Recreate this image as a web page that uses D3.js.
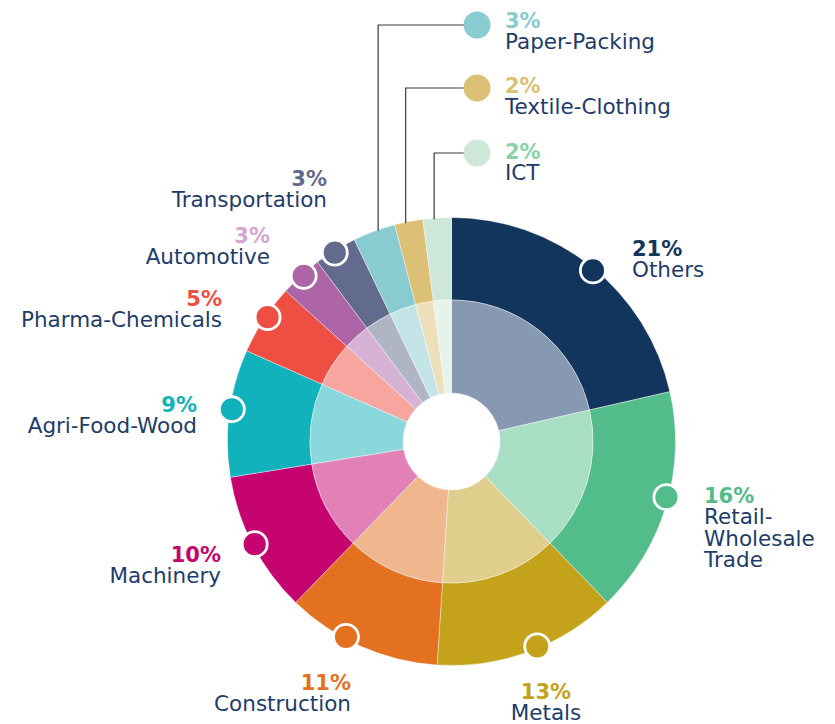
<!DOCTYPE html>
<html>
<head>
<meta charset="utf-8">
<script src="https://cdn.jsdelivr.net/npm/d3@7"></script>
<style>
  body { margin: 0; background: #fff; }
  svg { display: block; font-family: "DejaVu Sans", sans-serif; }
</style>
</head>
<body>
<div id="chart"></div>
<script>
// sectors, clockwise from 12 o'clock
const sectors = ["Others", "Retail-Wholesale Trade", "Metals", "Construction", "Machinery",
  "Agri-Food-Wood", "Pharma-Chemicals", "Automotive", "Transportation",
  "Paper-Packing", "Textile-Clothing", "ICT"];
const shares = [21, 16, 13, 11, 10, 9, 5, 3, 3, 3, 2, 2];
const nameLines = [["Others"], ["Retail-", "Wholesale", "Trade"], ["Metals"], ["Construction"],
  ["Machinery"], ["Agri-Food-Wood"], ["Pharma-Chemicals"], ["Automotive"], ["Transportation"],
  ["Paper-Packing"], ["Textile-Clothing"], ["ICT"]];

const outerColors = ["#12355e", "#52bd8a", "#c4a21a", "#e4711f", "#c5046f", "#11b2bb",
  "#ef4f42", "#ad65a8", "#626b8d", "#88cbd0", "#dcc075", "#cde8d8"];
const innerColors = ["#8799b0", "#a8dec4", "#e0ce8c", "#f0b68e", "#e281b6", "#88d8dc",
  "#f6a59f", "#d6b2d4", "#b0b5c6", "#c4e5e7", "#eddfba", "#e6f3eb"];
const pctColors = ["#12355e", "#52bd8a", "#c4a21a", "#e4711f", "#c5046f", "#11b2bb",
  "#ef4f42", "#d6a3d0", "#626b8d", "#88cbd0", "#dcc075", "#88d4a8"];
const nameColor = "#1d3c69";

// label placement (hand tuned like the original layout)
const labelPos = [
  {x: 632, y: 256, anchor: "start", nudge: 1},
  {x: 704, y: 503, anchor: "start", nudge: -2},
  {x: 546, y: 699, anchor: "middle", nudge: -2.5},
  {x: 351, y: 690, anchor: "end", nudge: 4.5},
  {x: 221, y: 562, anchor: "end", nudge: 0},
  {x: 197, y: 412, anchor: "end", nudge: 1},
  {x: 222, y: 306, anchor: "end", nudge: 1},
  {x: 270, y: 243, anchor: "end", nudge: 0.5},
  {x: 327, y: 186, anchor: "end", nudge: -0.5},
  {x: 505, y: 28, anchor: "start", callout: 25, shift: 4},
  {x: 505, y: 93, anchor: "start", callout: 88, shift: -3},
  {x: 505, y: 159, anchor: "start", callout: 153, shift: -3}
];

const width = 835, height = 724;
const cx = 451.5, cy = 441.5;
const R = 224, rMid = 141.5, rHole = 48.5;

const svg = d3.select("#chart").append("svg")
  .attr("width", width)
  .attr("height", height);

const pie = d3.pie().sort(null).value(d => d);
const arcs = pie(shares);

const g = svg.append("g").attr("transform", `translate(${cx},${cy})`);

const outerArc = d3.arc().innerRadius(rMid).outerRadius(R);
const innerArc = d3.arc().innerRadius(rHole).outerRadius(rMid);

g.selectAll(".outer")
  .data(arcs)
  .enter().append("path")
  .attr("class", "outer")
  .attr("d", outerArc)
  .attr("fill", (d, i) => outerColors[i])
  .attr("stroke", "#fff")
  .attr("stroke-width", 0.4);

g.selectAll(".inner")
  .data(arcs)
  .enter().append("path")
  .attr("class", "inner")
  .attr("d", innerArc)
  .attr("fill", (d, i) => innerColors[i])
  .attr("stroke", "#fff")
  .attr("stroke-width", 0.4);

const mid = d => (d.startAngle + d.endAngle) / 2;

// callout lines for the thin top slices
arcs.forEach((d, i) => {
  const lp = labelPos[i];
  if (lp.callout === undefined) return;
  const a = mid(d);
  const lx = R * Math.sin(a) + lp.shift;
  const ly = -Math.sqrt(R * R - lx * lx) + 1;
  g.append("path")
    .attr("d", `M${lx},${ly}V${lp.callout - cy}H${477 - cx}`)
    .attr("fill", "none")
    .attr("stroke", "#3a3a3a")
    .attr("stroke-width", 1.2);
  g.append("circle")
    .attr("cx", 477 - cx)
    .attr("cy", lp.callout - cy)
    .attr("r", 13.5)
    .attr("fill", outerColors[i]);
});

// marker dots on the outer edge
arcs.forEach((d, i) => {
  const lp = labelPos[i];
  if (lp.callout !== undefined) return;
  const a = mid(d) + lp.nudge * Math.PI / 180;
  g.append("circle")
    .attr("cx", 222 * Math.sin(a))
    .attr("cy", -222 * Math.cos(a))
    .attr("r", 12.5)
    .attr("fill", outerColors[i])
    .attr("stroke", "#fff")
    .attr("stroke-width", 2.8);
});

// labels: bold percentage on top, sector name below
arcs.forEach((d, i) => {
  const lp = labelPos[i];
  svg.append("text")
    .attr("x", lp.x)
    .attr("y", lp.y)
    .attr("text-anchor", lp.anchor)
    .attr("font-weight", "bold")
    .attr("font-size", 21)
    .attr("fill", pctColors[i])
    .text(shares[i] + "%");
  nameLines[i].forEach((line, k) => {
    svg.append("text")
      .attr("x", lp.x)
      .attr("y", lp.y + 21 + k * 21.5)
      .attr("text-anchor", lp.anchor)
      .attr("font-size", 21.5)
      .attr("fill", nameColor)
      .text(line);
  });
});
</script>
</body>
</html>
